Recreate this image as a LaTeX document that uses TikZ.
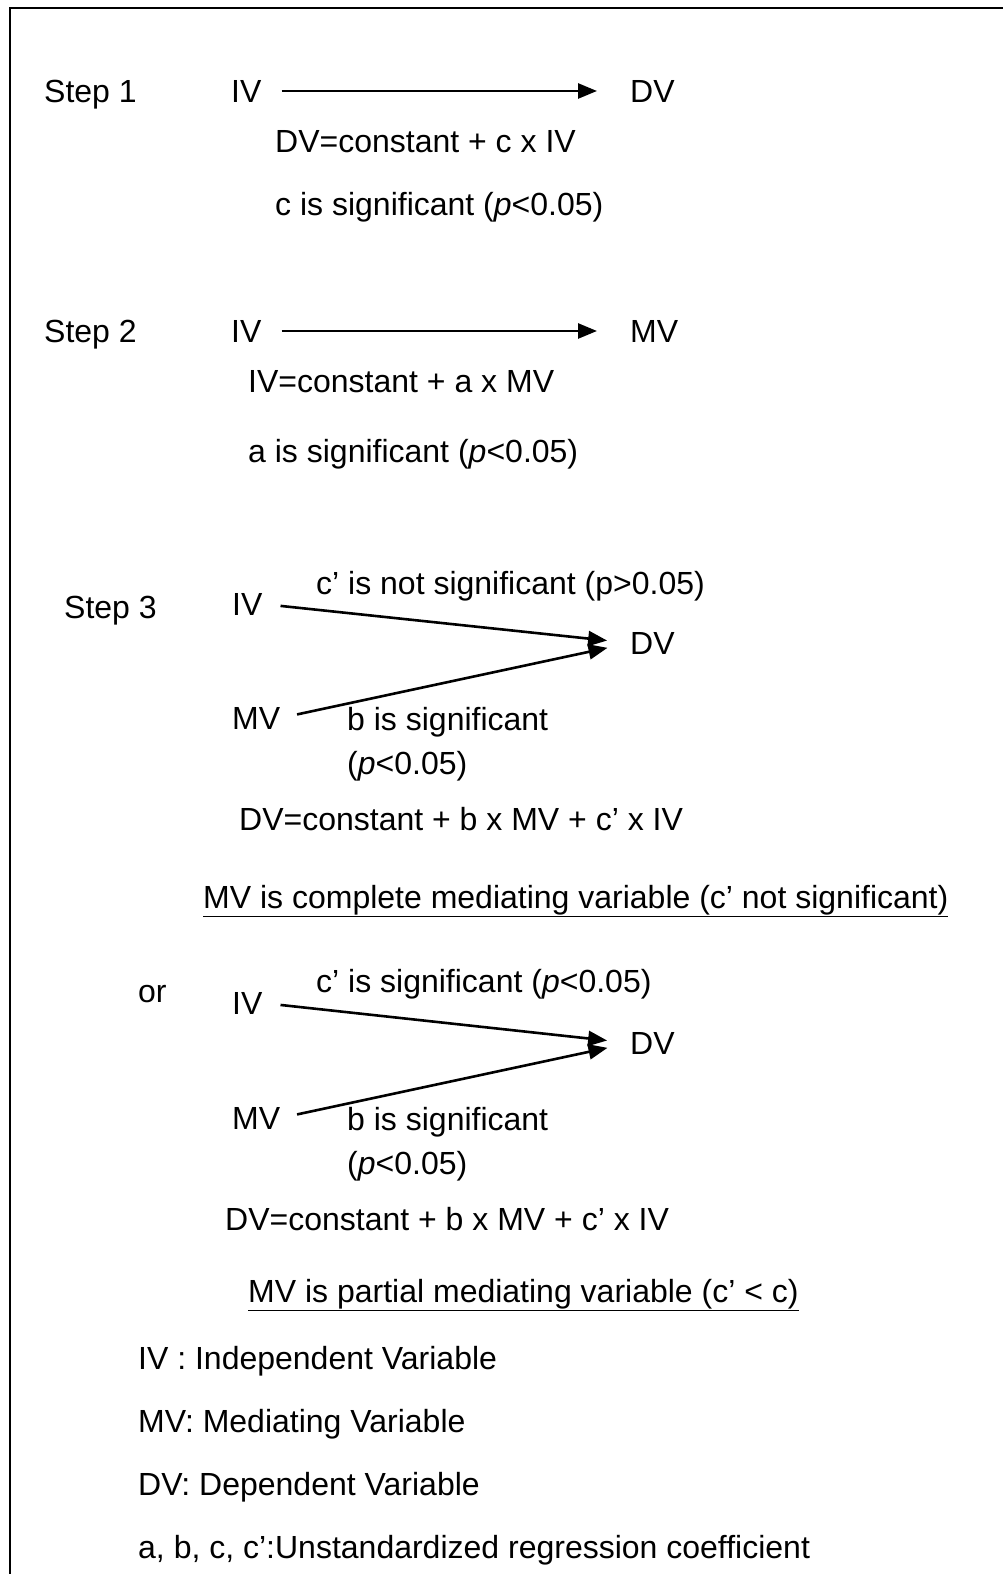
\documentclass[tikz,border=0pt]{standalone}
\usepackage{fontspec}
\setmainfont{Liberation Sans}
\usepackage{tikz}
\usetikzlibrary{arrows.meta}

\begin{document}
\begin{tikzpicture}[x=1pt, y=-1pt]
		% Define styles for the labels and arrows
		\tikzstyle{lbl} = [anchor=base west, inner sep=0pt, font=\fontsize{32}{38}\selectfont]
		\tikzstyle{arrow} = [line width=2.6pt, -{Triangle[length=19pt, width=15pt]}]
		
		% Page and frame (cut off at right and bottom)
		\useasboundingbox (0,0) rectangle (1003,1574);
		\draw [line width=2.6pt] (1010,8) -- (10,8) -- (10,1580);
		
		% Step 1
		\node (step1) [lbl] at (44,102) {Step 1};
		\node (iv1) [lbl] at (231,102) {IV};
		\node (dv1) [lbl] at (630,102) {DV};
		\node (eq1) [lbl] at (275,152) {DV=constant + c x IV};
		\node (sig1) [lbl] at (275,215) {c is significant (\textit{p}<0.05)};
		
		% Step 2
		\node (step2) [lbl] at (44,342) {Step 2};
		\node (iv2) [lbl] at (231,342) {IV};
		\node (mv2) [lbl] at (630,342) {MV};
		\node (eq2) [lbl] at (248,392) {IV=constant + a x MV};
		\node (sig2) [lbl] at (248,462) {a is significant (\textit{p}<0.05)};
		
		% Step 3, complete mediation
		\node (step3) [lbl] at (64,618) {Step 3};
		\node (iv3) [lbl] at (232,615) {IV};
		\node (dv3) [lbl] at (630,654) {DV};
		\node (mv3) [lbl] at (232,729) {MV};
		\node (cp3) [lbl] at (316,594) {c’ is not significant (p>0.05)};
		\node (b3) [lbl] at (347,730) {b is significant};
		\node (pb3) [lbl] at (347,774) {(\textit{p}<0.05)};
		\node (eq3) [lbl] at (239,830) {DV=constant + b x MV + c’ x IV};
		\node (full) [lbl] at (203,908) {\underline{MV is complete mediating variable (c’ not significant)}};
		
		% Step 3, partial mediation
		\node (or) [lbl] at (138,1002) {or};
		\node (iv4) [lbl] at (232,1014) {IV};
		\node (dv4) [lbl] at (630,1054) {DV};
		\node (mv4) [lbl] at (232,1129) {MV};
		\node (cp4) [lbl] at (316,992) {c’ is significant (\textit{p}<0.05)};
		\node (b4) [lbl] at (347,1130) {b is significant};
		\node (pb4) [lbl] at (347,1174) {(\textit{p}<0.05)};
		\node (eq4) [lbl] at (225,1230) {DV=constant + b x MV + c’ x IV};
		\node (part) [lbl] at (248,1302) {\underline{MV is partial mediating variable (c’ < c)}};
		
		% Legend
		\node (key1) [lbl] at (138,1369) {IV : Independent Variable};
		\node (key2) [lbl] at (138,1432) {MV: Mediating Variable};
		\node (key3) [lbl] at (138,1495) {DV: Dependent Variable};
		\node (key4) [lbl] at (138,1558) {a, b, c, c’:Unstandardized regression coefficient};
		
		% Draw arrows between the variables
		\draw [arrow, shorten <=20pt, shorten >=33pt] (iv1.east) -- (dv1.west);
		\draw [arrow, shorten <=20pt, shorten >=33pt] (iv2.east) -- (mv2.west);
		\draw [arrow, shorten <=18pt, shorten >=23pt] (iv3.east) -- (dv3.west);
		\draw [arrow, shorten <=17pt, shorten >=23pt] (mv3.east) -- (dv3.west);
		\draw [arrow, shorten <=18pt, shorten >=23pt] (iv4.east) -- (dv4.west);
		\draw [arrow, shorten <=17pt, shorten >=23pt] (mv4.east) -- (dv4.west);
	\end{tikzpicture}
\end{document}
